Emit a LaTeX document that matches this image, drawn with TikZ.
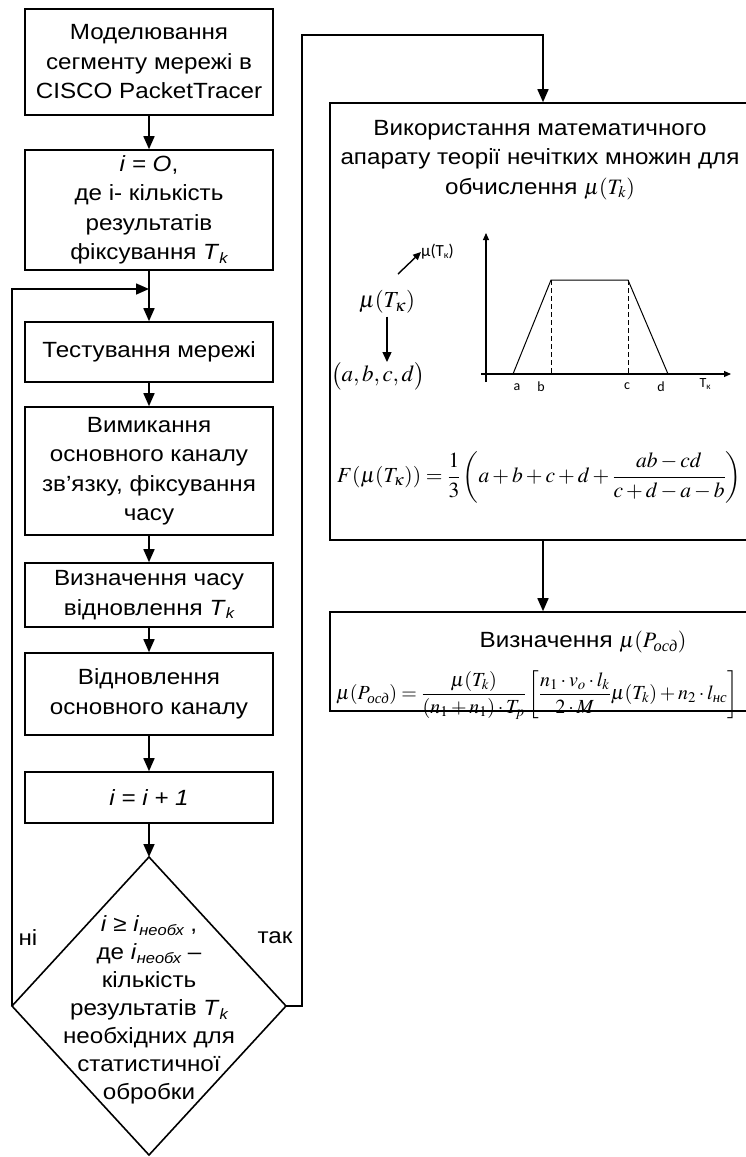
\documentclass[tikz,border=0pt]{standalone}
\usepackage{amsmath}
\usepackage{mathptmx}
\usepackage[no-math]{fontspec}
\setmainfont[FakeStretch=1.1]{Liberation Sans}
\newfontfamily\serifcyr{Liberation Serif}
\newfontfamily\smallsans{Carlito}
\usetikzlibrary{arrows.meta}
\newcommand{\flowfont}{\fontsize{22}{29.5}\selectfont}
\newcommand{\mathfnt}{\fontsize{21.5}{24}\selectfont}
\newcommand{\Tk}{\textit{T}\raisebox{-0.3ex}{\fontsize{15}{15}\selectfont\itshape k}}
\newcommand{\isub}[1]{\textit{i}\raisebox{-0.3ex}{\fontsize{15}{15}\selectfont\itshape #1}}
\newcommand{\cyrsub}[1]{\text{\serifcyr\itshape #1}}
\tikzset{
  box/.style={draw, line width=1.6pt, minimum width=248pt, align=center, inner sep=0pt, font=\flowfont},
  bigbox/.style={draw, line width=1.6pt, minimum width=426pt, inner sep=0pt},
  arr/.style={line width=1.6pt, -{Triangle[length=13pt,width=11pt]}},
  ln/.style={line width=1.6pt},
  axis/.style={line width=1.1pt, -{Triangle[length=7pt,width=6pt]}},
  thin/.style={line width=1pt},
  lbl/.style={font=\smallsans\fontsize{14}{14}\selectfont, inner sep=0pt},
  mtext/.style={font=\mathfnt, inner sep=0pt},
}
\begin{document}
\begin{tikzpicture}[x=1pt,y=-1pt]
\useasboundingbox (0,0) rectangle (746,1157);
\clip (0,0) rectangle (746,1157);
% left column
\node[box, minimum height=106pt] (b1) at (149,62) {Моделювання\\сегменту мережі в\\CISCO PacketTracer};
\node[box, minimum height=120pt] (b2) at (149,210) {\textit{i = O},\\де і- кількість\\результатів\\фіксування \Tk};
\node[box, minimum height=60pt] (b3) at (149,352) {Тестування мережі};
\node[box, minimum height=128pt] (b4) at (149,471) {Вимикання\\основного каналу\\зв’язку, фіксування\\часу};
\node[box, minimum height=64pt] (b5) at (149,595) {Визначення часу\\відновлення \Tk};
\node[box, minimum height=82pt] (b6) at (149,694) {Відновлення\\основного каналу};
\node[box, minimum height=51pt] (b7) at (149,797.5) {\textit{i = i + 1}};
% diamond
\coordinate (dt) at (149,857);
\coordinate (dl) at (12,1006);
\coordinate (dr) at (286,1006);
\coordinate (db) at (149,1155);
\draw[ln] (dt) -- (dr) -- (db) -- (dl) -- cycle;
\node[align=center, font=\fontsize{22}{28}\selectfont, inner sep=0pt] (dtext) at (149,1010) {\textit{i} ≥ \isub{необх} ,\\де \isub{необх} –\\кількість\\результатів \Tk\\необхідних для\\статистичної\\обробки};
\node[font=\flowfont, inner sep=0pt] (no) at (28,938) {ні};
\node[font=\flowfont, inner sep=0pt] (yes) at (275,938) {так};
% connectors
\coordinate (J) at (149,289);
\coordinate (rt) at (302,35);
\draw[arr] (b1) -- (b2);
\draw[arr] (b2) -- (b3);
\draw[arr] (dl) |- (J);
\draw[arr] (b3) -- (b4);
\draw[arr] (b4) -- (b5);
\draw[arr] (b5) -- (b6);
\draw[arr] (b6) -- (b7);
\draw[arr] (b7) -- (dt);
% right boxes
\node[bigbox, minimum height=437pt] (b8) at (543,321.5) {};
\node[bigbox, minimum height=99pt] (b9) at (543,661.5) {};
\draw[arr] (dr) -| (rt) -| (b8.north);
\draw[arr] (b8.south) -- (b9.north);
% b8 content
\node[align=center, font=\flowfont, inner sep=0pt] (b8t) at (540,160) {Використання математичного\\апарату теорії нечітких множин для\\обчислення $\mathfnt\mu(T_k)$};
% graph
\draw[axis] (486,382) -- (486,233);
\draw[axis] (481,374) -- (731,374);
\draw[thin] (513,374) -- (551,280) -- (628,280) -- (668,374);
\draw[dashed, dash pattern=on 5pt off 3pt, line width=0.7pt] (551,280) -- (551,374);
\draw[dashed, dash pattern=on 5pt off 3pt, line width=0.7pt] (628,280) -- (628,374);
\node[lbl] (la) at (517,387) {a};
\node[lbl] (lb) at (541,387) {b};
\node[lbl] (lc) at (627,386) {c};
\node[lbl] (ld) at (661,387) {d};
\node[lbl] (lt) at (705,384) {T\raisebox{-0.2ex}{\fontsize{9}{9}\selectfont к}};
% left formula
\node[mtext, font=\fontsize{23}{26}\selectfont] (mu) at (387,302) {$\mu(T_\kappa)$};
\node[lbl, font=\smallsans\fontsize{17}{17}\selectfont, anchor=west] (musmall) at (421,252) {μ(T\raisebox{-0.2ex}{\fontsize{10}{10}\selectfont к})};
\coordinate (d1) at (398,274);
\draw[line width=1.4pt, -{Triangle[length=8pt,width=7pt]}] (d1) -- (musmall.west);
\node[mtext, font=\fontsize{23}{26}\selectfont] (abcd) at (378,376) {$\bigl(a,b,c,d\bigr)$};
\draw[line width=1.4pt, -{Triangle[length=10pt,width=9pt]}] (mu.south) ++(0,3) -- (abcd.north -| mu.south);
\node[mtext, anchor=west] (F) at (337,477) {$\displaystyle F(\mu(T_\kappa))=\frac{1}{3}\left(a+b+c+d+\frac{ab-cd}{c+d-a-b}\right)$};
% b9 content
\node[font=\flowfont, inner sep=0pt] (b9t) at (583,642) {Визначення $\mathfnt\mu(P_{\cyrsub{осд}})$};
\node[mtext, font=\fontsize{20}{22}\selectfont, anchor=west] (P) at (336,695) {$\displaystyle \mu(P_{\cyrsub{осд}})=\frac{\mu(T_k)}{(n_1+n_1)\cdot T_p}\left[\frac{n_1\cdot v_o\cdot l_k}{2\cdot M}\mu(T_k)+n_2\cdot l_{\cyrsub{нс}}\right]$};
\end{tikzpicture}
\end{document}
